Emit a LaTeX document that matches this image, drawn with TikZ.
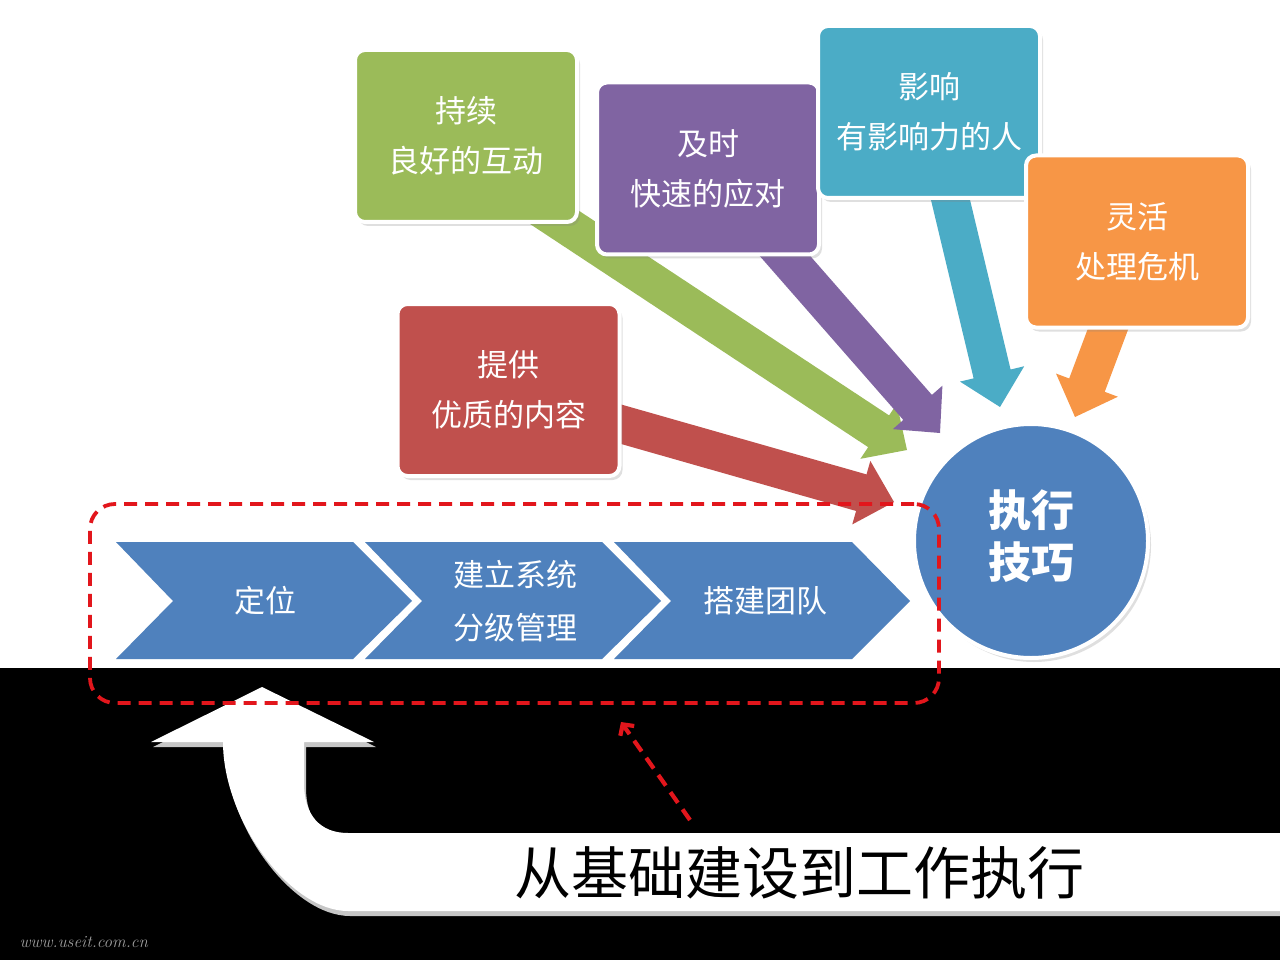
\documentclass[tikz,border=0pt]{standalone}
\usepackage{fontspec}
\newfontfamily\cjk{Noto Sans CJK SC}
\usetikzlibrary{calc,shadows,arrows.meta}
\definecolor{cgreen}{HTML}{9BBB59}
\definecolor{cpurple}{HTML}{8064A2}
\definecolor{cteal}{HTML}{4BACC6}
\definecolor{corange}{HTML}{F79646}
\definecolor{cred}{HTML}{C0504D}
\definecolor{cblue}{HTML}{4F81BD}
\definecolor{dashred}{RGB}{226,22,28}
\newcommand{\blockarrow}[4]{% #1 prefix, #2 start, #3 tip, #4 colour
  \coordinate (#1b) at ($(#3)!34pt!(#2)$);
  \fill[#4] ($(#2)!19pt!90:(#3)$) -- ($(#1b)!19pt!90:(#3)$) -- ($(#1b)!33pt!90:(#3)$)
    -- (#3) -- ($(#1b)!33pt!-90:(#3)$) -- ($(#1b)!19pt!-90:(#3)$) -- ($(#2)!19pt!-90:(#3)$) -- cycle;
}
\begin{document}
\begin{tikzpicture}[x=1pt,y=-1pt,
  infobox/.style={draw=white, line width=4pt, rounded corners=10pt,
    minimum width=222pt, minimum height=172pt, inner sep=0pt, text=white, align=center,
    font=\cjk\fontsize{31}{50}\selectfont,
    drop shadow={shadow xshift=3pt, shadow yshift=-4pt, opacity=0.25}},
  chevtext/.style={text=white, align=center, font=\cjk\fontsize{31}{53}\selectfont},
  dashline/.style={draw=dashred, line width=3.8pt, dash pattern=on 13pt off 8pt}]
\useasboundingbox (0,0) rectangle (1280,960);
\fill[white] (0,0) rectangle (1280,668);
\fill[black] (0,668) rectangle (1280,960);

% chevrons
\fill[cblue] (116,542) -- (353,542) -- (412,601) -- (353,659) -- (116,659) -- (173,601) -- cycle;
\fill[cblue] (365,542) -- (602,542) -- (661,601) -- (602,659) -- (365,659) -- (422,601) -- cycle;
\fill[cblue] (614,542) -- (852,542) -- (910,601) -- (852,659) -- (614,659) -- (671,601) -- cycle;
\node[chevtext] (c1) at (265,601) {定位};
\node[chevtext] (c2) at (515,601) {建立系统\\分级管理};
\node[chevtext] (c3) at (765,601) {搭建团队};

% arrow coordinates
\coordinate (rs) at (508,392);  \coordinate (rt) at (894,502);
\coordinate (gs) at (466,159);  \coordinate (gt) at (907,450);
\coordinate (ps) at (700,159);  \coordinate (pt) at (940,433);
\coordinate (ts) at (929,110);  \coordinate (tt) at (1000,407);
\coordinate (os) at (1135,257); \coordinate (ot) at (1075,417);
\blockarrow{r}{rs}{rt}{cred}
\blockarrow{g}{gs}{gt}{cgreen}
\blockarrow{p}{ps}{pt}{cpurple}
\blockarrow{t}{ts}{tt}{cteal}
\blockarrow{o}{os}{ot}{corange}

% boxes
\node[infobox, fill=cred] (redbox) at (508.5,390) {提供\\优质的内容};
\node[infobox, fill=cgreen] (greenbox) at (466,136) {持续\\良好的互动};
\node[infobox, fill=cpurple] (purplebox) at (708,168.5) {及时\\快速的应对};
\node[infobox, fill=cteal] (tealbox) at (929,112) {影响\\有影响力的人};
\node[infobox, fill=corange] (orangebox) at (1137,241.5) {灵活\\处理危机};

% circle
\node[circle, fill=cblue, draw=white, line width=4pt, minimum size=234pt, inner sep=0pt,
  drop shadow={shadow xshift=3pt, shadow yshift=-4pt, opacity=0.25}] (exec) at (1031,541) {};
\node[text=white, align=center, font=\cjk\bfseries\fontsize{43}{52}\selectfont] (exectext) at (1031,536) {执行\\技巧};

% U-shaped white arrow
\fill[gray!45] ([shift={(2,5)}]262,687) -- ([shift={(2,5)}]374,742) -- ([shift={(2,5)}]304,742) -- ([shift={(2,5)}]304,783)
  .. controls ([shift={(2,5)}]304,815) and ([shift={(2,5)}]320,833) .. ([shift={(2,5)}]348,833)
  -- ([shift={(2,5)}]1280,833) -- ([shift={(2,5)}]1280,911) -- ([shift={(2,5)}]348,911)
  .. controls ([shift={(2,5)}]290,911) and ([shift={(2,5)}]223,820) .. ([shift={(2,5)}]223,742)
  -- ([shift={(2,5)}]151,742) -- cycle;
\fill[white] (262,687) -- (374,742) -- (304,742) -- (304,783)
  .. controls (304,815) and (320,833) .. (348,833) -- (1280,833) -- (1280,911) -- (348,911)
  .. controls (290,911) and (223,820) .. (223,742) -- (151,742) -- cycle;
\node[text=black, font=\cjk\fontsize{57}{60}\selectfont] (slogan) at (799,873) {从基础建设到工作执行};

% dashed frame and dashed arrow
\node[dashline, rounded corners=25pt, minimum width=849pt, minimum height=199pt, inner sep=0pt] (base) at (514.5,603.5) {};
\coordinate (dstart) at (690,820);
\coordinate (dend) at (621,722);
\draw[dashline, line width=4.2pt, -{Straight Barb[length=8pt, width=17pt]}] (dstart) -- (dend);

% watermark
\node[text=gray!75, font=\itshape\fontsize{17}{18}\selectfont, anchor=west] (wm) at (16,942) {www.useit.com.cn};
\end{tikzpicture}
\end{document}
